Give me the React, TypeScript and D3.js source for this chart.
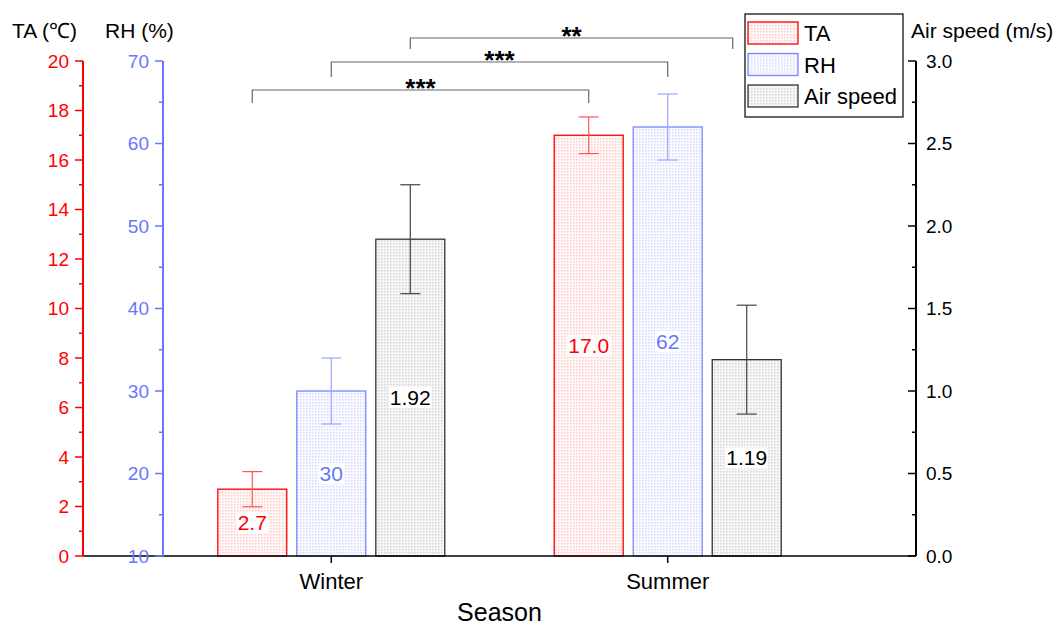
import React, { useEffect, useRef } from "react";
import * as d3 from "d3";

// data
const seasons = ["Winter", "Summer"];
const seriesNames = ["TA", "RH", "Air speed"];
const taMean = [2.7, 17.0];
const taSd = [0.71, 0.74];
const rhMean = [30, 62];
const rhSd = [4.0, 4.0];
const airMean = [1.92, 1.19];
const airSd = [0.33, 0.33];
const taTicks = [0, 2, 4, 6, 8, 10, 12, 14, 16, 18, 20];
const rhTicks = [10, 20, 30, 40, 50, 60, 70];
const airTicks = [0, 0.5, 1.0, 1.5, 2.0, 2.5, 3.0];
// significance brackets: series index, label
const sigSeries = [0, 1, 2];
const sigLabels = ["***", "***", "**"];

const FONT = "'Liberation Sans', Arial, sans-serif";
const RED = "#ff0000";
const BLUE = "#6677ff";

export default function App() {
  const ref = useRef<SVGSVGElement>(null);

  useEffect(() => {
    const svg = d3.select(ref.current);
    svg.selectAll("*").remove();

    const left = 83, right = 916, top = 61, bottom = 556;

    const yTA = d3.scaleLinear().domain([0, 20]).range([bottom, top]);
    const yRH = d3.scaleLinear().domain([10, 70]).range([bottom, top]);
    const yAir = d3.scaleLinear().domain([0, 3]).range([bottom, top]);
    const scales = [yTA, yRH, yAir];

    const x = d3.scalePoint<string>().domain(seasons).range([left, right]).padding(0.738);
    const xs = d3.scaleBand<string>().domain(seriesNames).range([-113.5, 113.5]).paddingInner(0.127);
    const bw = xs.bandwidth();

    // patterns for the dotted bar fill
    const defs = svg.append("defs");
    const patt = [
      { id: "pTA", dot: "#ffcccc", bg: "#fff8f8" },
      { id: "pRH", dot: "#d6dcff", bg: "#fafaff" },
      { id: "pAir", dot: "#d6d6d6", bg: "#f7f7f7" },
    ];
    patt.forEach((p) => {
      const pt = defs.append("pattern").attr("id", p.id).attr("width", 3).attr("height", 3)
        .attr("patternUnits", "userSpaceOnUse");
      pt.append("rect").attr("width", 3).attr("height", 3).attr("fill", p.bg);
      pt.append("rect").attr("width", 1.5).attr("height", 1.5).attr("fill", p.dot);
    });

    const means = [taMean, rhMean, airMean];
    const sds = [taSd, rhSd, airSd];
    const strokes = [RED, "#7788ff", "#333333"];
    const errColors = ["#ff5555", "#99a6ff", "#444444"];
    const labelColors = [RED, BLUE, "#000000"];
    const fmt = [(v: number) => v.toFixed(1), (v: number) => v.toFixed(0), (v: number) => v.toFixed(2)];

    const barData: any[] = [];
    seasons.forEach((s, si) => {
      seriesNames.forEach((n, k) => {
        barData.push({ s, si, n, k, v: means[k][si], sd: sds[k][si] });
      });
    });
    const cx = (d: any) => (x(d.s) as number) + (xs(d.n) as number) + bw / 2;

    // bars
    svg.append("g").selectAll("rect").data(barData).join("rect")
      .attr("x", (d) => cx(d) - bw / 2)
      .attr("width", bw)
      .attr("y", (d) => scales[d.k](d.v))
      .attr("height", (d) => bottom - scales[d.k](d.v))
      .attr("fill", (d) => `url(#${patt[d.k].id})`)
      .attr("stroke", (d) => strokes[d.k])
      .attr("stroke-width", 1.3);

    // error bars
    const eg = svg.append("g").selectAll("g").data(barData).join("g")
      .attr("stroke", (d) => errColors[d.k]).attr("stroke-width", 1.2);
    eg.append("line")
      .attr("x1", cx).attr("x2", cx)
      .attr("y1", (d) => scales[d.k](d.v + d.sd))
      .attr("y2", (d) => scales[d.k](d.v - d.sd));
    eg.append("line")
      .attr("x1", (d) => cx(d) - 10).attr("x2", (d) => cx(d) + 10)
      .attr("y1", (d) => scales[d.k](d.v + d.sd)).attr("y2", (d) => scales[d.k](d.v + d.sd));
    eg.append("line")
      .attr("x1", (d) => cx(d) - 10).attr("x2", (d) => cx(d) + 10)
      .attr("y1", (d) => scales[d.k](d.v - d.sd)).attr("y2", (d) => scales[d.k](d.v - d.sd));

    // value labels at bar middle, white background
    const lg = svg.append("g").selectAll("g").data(barData).join("g");
    lg.each(function (d: any) {
      const g = d3.select(this);
      const ymid = (scales[d.k](d.v) + bottom) / 2;
      const bg = g.append("rect").attr("fill", "#ffffff");
      const t = g.append("text")
        .attr("x", cx(d)).attr("y", ymid).attr("dy", "0.36em")
        .attr("text-anchor", "middle")
        .attr("font-family", FONT).attr("font-size", 21)
        .attr("fill", labelColors[d.k])
        .text(fmt[d.k](d.v));
      const bb = (t.node() as SVGTextElement).getBBox();
      bg.attr("x", bb.x - 1).attr("y", bb.y + 1).attr("width", bb.width + 2).attr("height", bb.height - 2);
    });

    // bottom axis
    svg.append("line").attr("x1", left).attr("x2", right).attr("y1", bottom).attr("y2", bottom)
      .attr("stroke", "#000").attr("stroke-width", 1.5);
    svg.append("g").selectAll("line").data(seasons).join("line")
      .attr("x1", (d) => x(d) as number).attr("x2", (d) => x(d) as number)
      .attr("y1", bottom).attr("y2", bottom + 7).attr("stroke", "#000").attr("stroke-width", 1.5);
    svg.append("g").selectAll("text").data(seasons).join("text")
      .attr("x", (d) => x(d) as number).attr("y", 589)
      .attr("text-anchor", "middle").attr("font-family", FONT).attr("font-size", 22)
      .text((d) => d);
    svg.append("text").attr("x", (left + right) / 2).attr("y", 621)
      .attr("text-anchor", "middle").attr("font-family", FONT).attr("font-size", 25)
      .text("Season");

    // vertical axis helper
    function vAxis(xPos: number, scale: any, ticks: number[], color: string, side: number,
      tickIn: boolean, fmtT: (v: number) => string) {
      const g = svg.append("g");
      g.append("line").attr("x1", xPos).attr("x2", xPos).attr("y1", top).attr("y2", bottom)
        .attr("stroke", color).attr("stroke-width", 2);
      const dir = tickIn ? -side : side;
      const minors: number[] = [];
      for (let i = 0; i < ticks.length - 1; i++) minors.push((ticks[i] + ticks[i + 1]) / 2);
      g.selectAll(".maj").data(ticks).join("line")
        .attr("x1", xPos).attr("x2", xPos + dir * 8)
        .attr("y1", (d) => scale(d)).attr("y2", (d) => scale(d))
        .attr("stroke", color).attr("stroke-width", 1.5);
      g.selectAll(".min").data(minors).join("line")
        .attr("class", "min")
        .attr("x1", xPos).attr("x2", xPos + dir * 4)
        .attr("y1", (d) => scale(d)).attr("y2", (d) => scale(d))
        .attr("stroke", color).attr("stroke-width", 1.5);
      g.selectAll("text").data(ticks).join("text")
        .attr("x", side < 0 ? xPos - 14 : xPos + 10)
        .attr("y", (d) => scale(d)).attr("dy", "0.36em")
        .attr("text-anchor", side < 0 ? "end" : "start")
        .attr("font-family", FONT).attr("font-size", 19)
        .attr("fill", color)
        .text(fmtT);
    }
    vAxis(left, yTA, taTicks, RED, -1, false, (v) => String(v));
    vAxis(163, yRH, rhTicks, BLUE, -1, false, (v) => String(v));
    vAxis(right, yAir, airTicks, "#000000", 1, true, (v) => v.toFixed(1));

    // axis titles
    const titles = [
      { t: "TA (℃)", x: 12 },
      { t: "RH (%)", x: 105 },
      { t: "Air speed (m/s)", x: 911 },
    ];
    svg.append("g").selectAll("text").data(titles).join("text")
      .attr("x", (d) => d.x).attr("y", 38)
      .attr("font-family", FONT).attr("font-size", 21)
      .text((d) => d.t);

    // significance brackets
    const levels = [90, 62, 38];
    const drops = [13, 15, 11];
    const endShift = [0, 0, -14];
    sigSeries.forEach((k, i) => {
      const x1 = (x(seasons[0]) as number) + (xs(seriesNames[k]) as number) + bw / 2;
      const x2 = (x(seasons[1]) as number) + (xs(seriesNames[k]) as number) + bw / 2 + endShift[i];
      const yl = levels[i];
      svg.append("path")
        .attr("d", `M${x1},${yl + drops[i]}V${yl}H${x2}V${yl + drops[i]}`)
        .attr("fill", "none").attr("stroke", "#666").attr("stroke-width", 1.2);
      svg.append("text")
        .attr("x", (x1 + x2) / 2).attr("y", yl + 7)
        .attr("text-anchor", "middle").attr("font-family", FONT).attr("font-size", 26)
        .attr("font-weight", "bold")
        .text(sigLabels[i]);
    });

    // legend
    const lgX = 745, lgY = 14;
    const leg = svg.append("g");
    leg.append("rect").attr("x", lgX).attr("y", lgY).attr("width", 158).attr("height", 103)
      .attr("fill", "#fff").attr("stroke", "#000").attr("stroke-width", 1.2);
    const items = leg.selectAll("g").data(seriesNames).join("g")
      .attr("transform", (d, i) => `translate(${lgX + 3},${lgY + 8 + i * 31.5})`);
    items.append("rect").attr("width", 50).attr("height", 22)
      .attr("fill", (d, i) => `url(#${patt[i].id})`)
      .attr("stroke", (d, i) => strokes[i]).attr("stroke-width", 1.3);
    items.append("text").attr("x", 56).attr("y", 19)
      .attr("font-family", FONT).attr("font-size", 22)
      .text((d) => d);
  }, []);

  return (
    <svg ref={ref} width={1064} height={628}
      style={{ position: "absolute", left: 0, top: 0, background: "#fff" }} />
  );
}
